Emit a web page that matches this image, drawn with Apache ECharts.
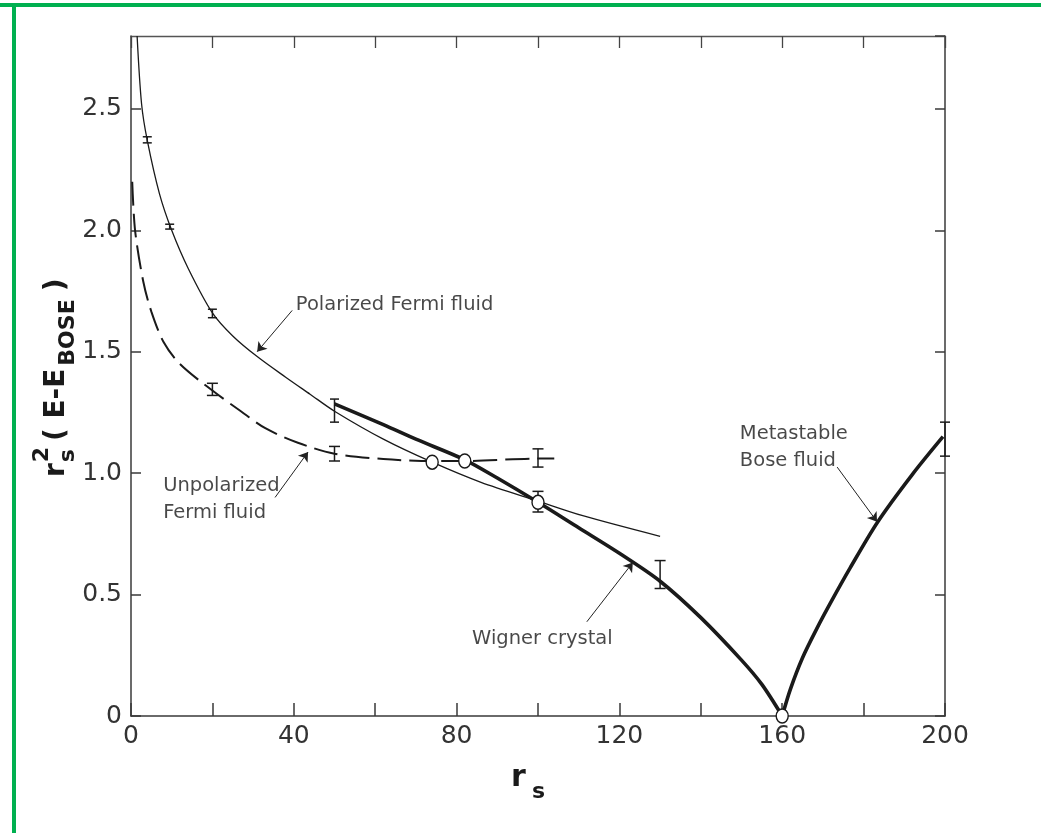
<!DOCTYPE html>
<html>
<head>
<meta charset="utf-8">
<script src="https://cdn.jsdelivr.net/npm/echarts@6/dist/echarts.min.js"></script>
<style>
html,body{margin:0;padding:0;background:#fff;}
#chart{width:1041px;height:833px;}
</style>
</head>
<body>
<div id="chart"></div>
<script>
// ---- data ----
const xTickLabels = [0, 40, 80, 120, 160, 200];
const polarized = [[1.5,2.8],[2.6,2.52],[4,2.37],[7,2.15],[10,2.0],[14,1.845],[20,1.66],[25,1.565],[31,1.48],[38,1.395],[44,1.325],[50,1.255],[62,1.14],[74,1.045],[86,0.962],[100,0.885],[111,0.825],[130,0.74]];
const unpolarized = [[0.3,2.2],[1,2.0],[3,1.79],[5,1.665],[8,1.54],[12,1.45],[20,1.34],[27,1.255],[33,1.185],[41,1.125],[50,1.08],[62,1.058],[74,1.05],[82,1.05],[100,1.06],[104,1.06]];
const wigner = [[50,1.285],[62,1.20],[70,1.14],[82,1.055],[90,0.98],[100,0.88],[110,0.775],[120,0.67],[130,0.555],[140,0.405],[150,0.23],[155,0.13],[160,0]];
const bose = [[160,0],[162,0.11],[165,0.24],[168.5,0.36],[172,0.47],[176.7,0.61],[183.5,0.80],[192,0.995],[199.5,1.15]];
// error bars: [x, low, high]
const errPolarized = [[4,2.36,2.385],[9.5,2.005,2.025],[20,1.64,1.675],[50,1.21,1.305]];
const errUnpolarized = [[20,1.32,1.37],[50,1.05,1.11],[100,1.025,1.10]];
const errWigner = [[100,0.84,0.925],[130,0.525,0.64]];
const errBose = [[200,1.07,1.21]];
const circles = [[74,1.045],[82,1.05],[100,0.88],[160,0]];
// annotations: [text, x, y]
const annotations = [
  ['Polarized Fermi fluid', 40.5, 1.694],
  ['Unpolarized\nFermi fluid', 7.9, 0.89],
  ['Wigner crystal', 83.8, 0.318],
  ['Metastable\nBose fluid', 149.6, 1.105]
];
// arrows: [x1, y1, x2(head), y2(head)]
const arrows = [
  [39.6,1.67,31,1.5],
  [35.4,0.90,43.5,1.087],
  [112,0.388,123.3,0.632],
  [173.5,1.025,183.3,0.80]
];

const INK = '#1a1a1a';
const chart = echarts.init(document.getElementById('chart'), null, {renderer:'canvas'});

function errorBarSeries(data, cap) {
  return {
    type: 'custom',
    data: data,
    z: 5,
    silent: true,
    renderItem: function (params, api) {
      const x = api.value(0), lo = api.value(1), hi = api.value(2);
      const p1 = api.coord([x, lo]), p2 = api.coord([x, hi]);
      const st = {stroke: INK, lineWidth: 1.5};
      return {type:'group', children:[
        {type:'line', shape:{x1:p1[0], y1:p1[1], x2:p2[0], y2:p2[1]}, style:st},
        {type:'line', shape:{x1:p1[0]-cap/2, y1:p1[1], x2:p1[0]+cap/2, y2:p1[1]}, style:st},
        {type:'line', shape:{x1:p2[0]-cap/2, y1:p2[1], x2:p2[0]+cap/2, y2:p2[1]}, style:st}
      ]};
    }
  };
}

const tickFont = {fontFamily:"'DejaVu Sans', sans-serif", fontSize:25, color:'#333', fontWeight:'normal'};
const axisLineStyle = {color:'#3a3a3a', width:1.5};

const option = {
  animation: false,
  backgroundColor: '#ffffff',
  grid: {left:131, right:96, top:36, bottom:117, containLabel:false},
  xAxis: [{
    type:'value', min:0, max:200, interval:20, position:'bottom',
    axisLine:{show:true, onZero:false, lineStyle:axisLineStyle},
    axisTick:{show:true, inside:true, length:13, lineStyle:axisLineStyle},
    splitLine:{show:false},
    axisLabel:Object.assign({margin:8, formatter:function(v){return xTickLabels.indexOf(v) >= 0 ? String(v) : '';}}, tickFont)
  },{
    type:'value', min:0, max:200, interval:20, position:'top',
    axisLine:{show:true, onZero:false, lineStyle:{color:'#555', width:1.3}},
    axisTick:{show:true, inside:true, length:12, lineStyle:{color:'#444', width:1.3}},
    splitLine:{show:false}, axisLabel:{show:false}
  }],
  yAxis: [{
    type:'value', min:0, max:2.8, interval:0.5, position:'left',
    axisLine:{show:true, onZero:false, lineStyle:axisLineStyle},
    axisTick:{show:true, inside:true, length:10, lineStyle:axisLineStyle},
    splitLine:{show:false},
    axisLabel:Object.assign({margin:9, showMaxLabel:false, formatter:function(v){return v === 0 ? '0' : v.toFixed(1);}}, tickFont)
  },{
    type:'value', min:0, max:2.8, interval:0.5, position:'right',
    axisLine:{show:true, onZero:false, lineStyle:axisLineStyle},
    axisTick:{show:true, inside:true, length:10, lineStyle:axisLineStyle},
    splitLine:{show:false}, axisLabel:{show:false}
  }],
  series: [
    {type:'line', data:polarized, smooth:0.3, showSymbol:false, silent:true,
     lineStyle:{color:INK, width:1.3}, z:3},
    {type:'line', data:unpolarized, smooth:0.3, showSymbol:false, silent:true,
     lineStyle:{color:INK, width:2, type:[24,8]}, z:3},
    {type:'line', data:wigner, smooth:0.3, showSymbol:false, silent:true,
     lineStyle:{color:INK, width:3.6}, z:4},
    {type:'line', data:bose, smooth:0.3, showSymbol:false, silent:true,
     lineStyle:{color:INK, width:3.6}, z:4},
    errorBarSeries(errPolarized, 9),
    errorBarSeries(errUnpolarized, 11),
    errorBarSeries(errWigner, 11),
    errorBarSeries(errBose, 10),
    {type:'scatter', data:circles, symbol:'circle', symbolSize:[12,14], silent:true, z:10,
     itemStyle:{color:'#ffffff', borderColor:INK, borderWidth:1.5, opacity:1}},
    {type:'scatter', symbolSize:0, silent:true, z:12,
     data: annotations.map(function(a){ return {name:a[0], value:[a[1], a[2]]}; }),
     label:{show:true, position:'right', distance:0, align:'left', verticalAlign:'middle',
            formatter:function(p){return p.name;},
            fontFamily:"'DejaVu Sans', sans-serif", fontSize:19.5, lineHeight:27, color:'#1a1a1a'},
     markLine:{silent:true, symbol:['none','arrow'], symbolSize:9, animation:false,
       label:{show:false}, lineStyle:{color:'#222', width:1, type:'solid'},
       data: arrows.map(function(a){ return [{coord:[a[0],a[1]]},{coord:[a[2],a[3]]}]; })}
    }
  ]
};
chart.setOption(option);

// ---- axis titles (rich sub/superscripts) and frame decoration ----
const mctx = document.createElement('canvas').getContext('2d');
function tw(text, size, weight) { mctx.font = weight + ' ' + size + "px 'DejaVu Sans'"; return mctx.measureText(text).width; }
const FF = "'DejaVu Sans', sans-serif";
const mainSz = 28, subSz = 22;
let u = 0;
const yKids = [];
function addT(text, size, du, v) {
  yKids.push({type:'text', x:u, y:v, style:{text:text, fontSize:size, fontWeight:'bold', fontFamily:FF, fill:'#1a1a1a', align:'left', verticalAlign:'middle'}});
  if (du) u += tw(text, size, 'bold') + du;
}
addT('r', mainSz, 1, 0);
const sx = u;
yKids.push({type:'text', x:sx, y:-15, style:{text:'2', fontSize:subSz, fontWeight:'bold', fontFamily:FF, fill:'#1a1a1a', align:'left', verticalAlign:'middle'}});
addT('s', subSz, 8, 11);
addT('( E-E', mainSz, 3, 0);
addT('BOSE', subSz, 8, 11);
addT(')', mainSz, 0, 0);

chart.setOption({
  graphic: [
    {type:'rect', shape:{x:0, y:3, width:1041, height:4}, style:{fill:'#00b050'}, z:100},
    {type:'rect', shape:{x:12, y:3, width:4, height:830}, style:{fill:'#00b050'}, z:100},
    {type:'group', x:57, y:477, rotation:Math.PI/2, children:yKids, z:100},
    {type:'text', x:511, y:778, style:{text:'r', fontSize:30, fontWeight:'bold', fontFamily:FF, fill:'#1a1a1a', align:'left', verticalAlign:'middle'}},
    {type:'text', x:532, y:792, style:{text:'s', fontSize:22, fontWeight:'bold', fontFamily:FF, fill:'#1a1a1a', align:'left', verticalAlign:'middle'}}
  ]
});
</script>
</body>
</html>
